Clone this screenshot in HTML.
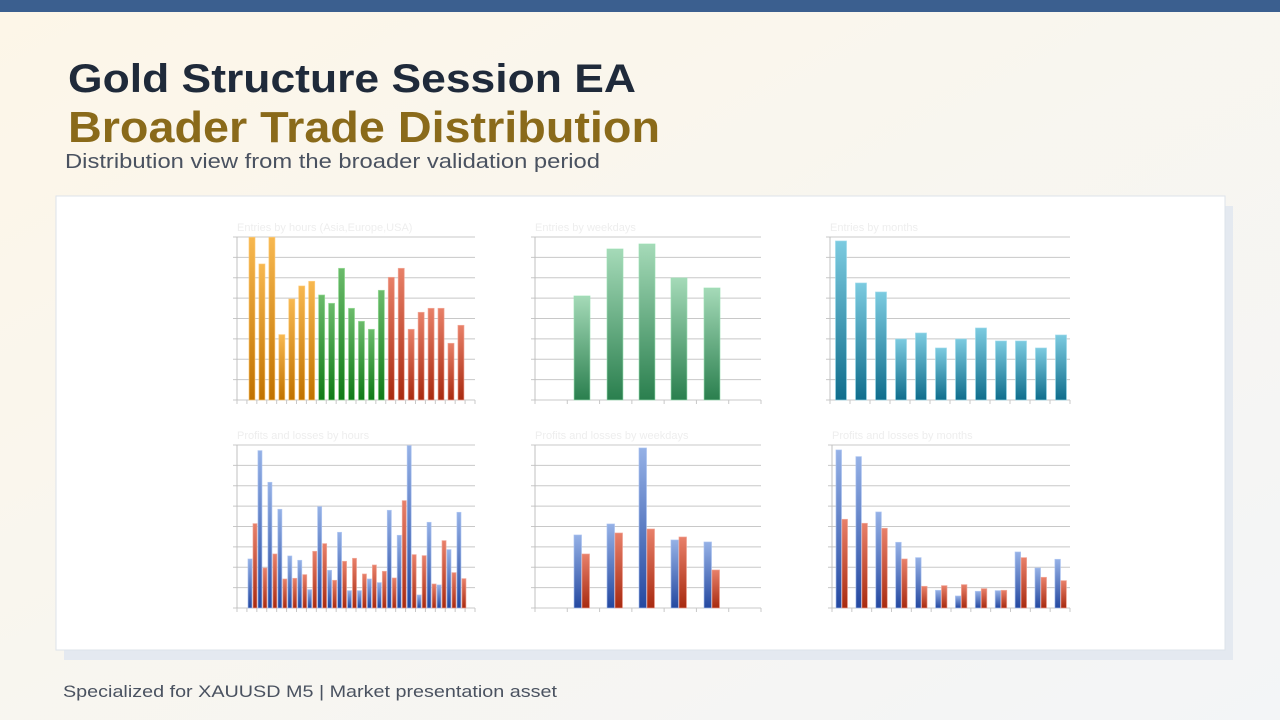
<!DOCTYPE html>
<html><head><meta charset="utf-8"><style>
html,body{margin:0;padding:0;width:1280px;height:720px;overflow:hidden}
svg{display:block}
</style></head><body>
<svg id="s" width="1280" height="720" viewBox="0 0 1280 720" xmlns="http://www.w3.org/2000/svg" font-family="Liberation Sans, sans-serif">
<defs>
<linearGradient id="bg" x1="0" y1="0" x2="1" y2="1"><stop offset="0" stop-color="#fdf6e8"/><stop offset="1" stop-color="#f3f5f7"/></linearGradient>
<linearGradient id="gO" x1="0" y1="0" x2="0" y2="1"><stop offset="0" stop-color="#f7b850"/><stop offset="1" stop-color="#c07200"/></linearGradient>
<linearGradient id="gG" x1="0" y1="0" x2="0" y2="1"><stop offset="0" stop-color="#6bbb6b"/><stop offset="1" stop-color="#107a18"/></linearGradient>
<linearGradient id="gR" x1="0" y1="0" x2="0" y2="1"><stop offset="0" stop-color="#e88068"/><stop offset="1" stop-color="#a82a10"/></linearGradient>
<linearGradient id="gW" x1="0" y1="0" x2="0" y2="1"><stop offset="0" stop-color="#a5dab8"/><stop offset="1" stop-color="#2a7f4e"/></linearGradient>
<linearGradient id="gC" x1="0" y1="0" x2="0" y2="1"><stop offset="0" stop-color="#7ccbe0"/><stop offset="1" stop-color="#0f6d8c"/></linearGradient>
<linearGradient id="gB" x1="0" y1="0" x2="0" y2="1"><stop offset="0" stop-color="#95b1e6"/><stop offset="1" stop-color="#2448a0"/></linearGradient>
<linearGradient id="gP" x1="0" y1="0" x2="0" y2="1"><stop offset="0" stop-color="#e8806a"/><stop offset="1" stop-color="#a82a10"/></linearGradient>
</defs>
<rect width="1280" height="720" fill="url(#bg)"/>
<rect width="1280" height="12" fill="#3b5f8f"/>
<text x="68" y="92" font-size="40" font-weight="bold" fill="#1f2a3a" textLength="568" lengthAdjust="spacingAndGlyphs">Gold Structure Session EA</text>
<text x="68" y="142" font-size="44" font-weight="bold" fill="#8a6a1a" textLength="592" lengthAdjust="spacingAndGlyphs">Broader Trade Distribution</text>
<text x="65" y="168" font-size="20" fill="#4a5260" textLength="535" lengthAdjust="spacingAndGlyphs">Distribution view from the broader validation period</text>
<rect x="64" y="206" width="1169" height="454" fill="#e4e9f0"/>
<rect x="56" y="196" width="1169" height="454" fill="#ffffff" stroke="#dde3ea"/>
<text x="63" y="697" font-size="17" fill="#4a5260" textLength="494" lengthAdjust="spacingAndGlyphs">Specialized for XAUUSD M5 | Market presentation asset</text>
<g id="g"></g>
</svg>
<script>
var g=document.getElementById('g'),h='';
function R(x,y,w,hh,f,st){h+='<rect x="'+x+'" y="'+y+'" width="'+w+'" height="'+hh+'" fill="url(#'+f+')" stroke="'+st+'" stroke-width="0.8" stroke-opacity="0.8"/>';}
function grid(x0,x1,y0,y1,n,title,nt){
 for(var i=0;i<=n;i++){var y=y0+(y1-y0)*i/n;h+='<line x1="'+(x0-4)+'" x2="'+x1+'" y1="'+y+'" y2="'+y+'" stroke="#c8c8c8" stroke-width="1"/>';}
 h+='<line x1="'+x0+'" x2="'+x0+'" y1="'+y0+'" y2="'+(y1+4)+'" stroke="#c0c0c0"/>';
 for(var i=0;i<=nt;i++){var x=x0+(x1-x0)*i/nt;h+='<line x1="'+x+'" x2="'+x+'" y1="'+y1+'" y2="'+(y1+4)+'" stroke="#c8c8c8"/>';}
 h+='<text x="'+(x0)+'" y="'+(y0-6)+'" font-size="11" fill="#eeeeee">'+title+'</text>';
}
// chart1
grid(237,475,237,400,8,'Entries by hours (Asia,Europe,USA)',24);
var t1=[52,132,52,344,237,198,184,225,250,145,265,304,328,211,172,145,328,277,265,265,370,316];
t1.forEach(function(z,i){var hr=i+1,y=220+z/3,x=252+i*9.95-3;var f=hr<=7?'gO':hr<=14?'gG':'gR';var s=hr<=7?'#ffc870':hr<=14?'#90d890':'#f0a090';R(x,y,6,400-y,f,s);});
// chart2
grid(535,761,237,400,8,'Entries by weekdays',7);
[296,249,244,278,288].forEach(function(y,i){R([582,615,647,679,712][i]-8,y,16,400-y,'gW','#9be0b4');});
// chart3
grid(830,1070,237,400,8,'Entries by months',12);
[241,283,292,339,333,348,339,328,341,341,348,335].forEach(function(y,i){R(841+i*20-5.5,y,11,400-y,'gC','#9ad8ea');});
// chart4
grid(237,475,445,608,8,'Profits and losses by hours',24);
var t4=[[402,296],[77,429],[172,387],[253,462],[393,460],[406,449],[494,379],[245,356],[436,466],[322,409],[497,400],[497,447],[462,420],[473,439],[256,459],[331,227],[62,389],[510,392],[292,477],[480,347],[374,443],[262,461]];
t4.forEach(function(p,i){var x=248+i*9.95;var yb=425+p[0]/3,yr=425+p[1]/3;R(x,yb,4,608-yb,'gB','#a8c0f0');R(x+5,yr,4,608-yr,'gP','#f0a090');});
// chart5
grid(535,761,445,608,8,'Profits and losses by weekdays',7);
[[535,554],[524,533],[448,529],[540,537],[542,570]].forEach(function(p,i){var c=[582,615,647,679,712][i];R(c-8,p[0],7.5,608-p[0],'gB','#a8c0f0');R(c,p[1],7.5,608-p[1],'gP','#f0a090');});
// chart6
grid(832,1070,445,608,8,'Profits and losses by months',12);
[[75,283],[95,295],[261,310],[352,402],[398,484],[496,482],[513,479],[499,491],[497,496],[381,398],[429,457],[403,467]].forEach(function(p,i){var x=839+i*19.9;var yb=425+p[0]/3,yr=425+p[1]/3;R(x-3,yb,5.5,608-yb,'gB','#a8c0f0');R(x+3,yr,5.5,608-yr,'gP','#f0a090');});
g.innerHTML=h;
</script>
</body></html>
